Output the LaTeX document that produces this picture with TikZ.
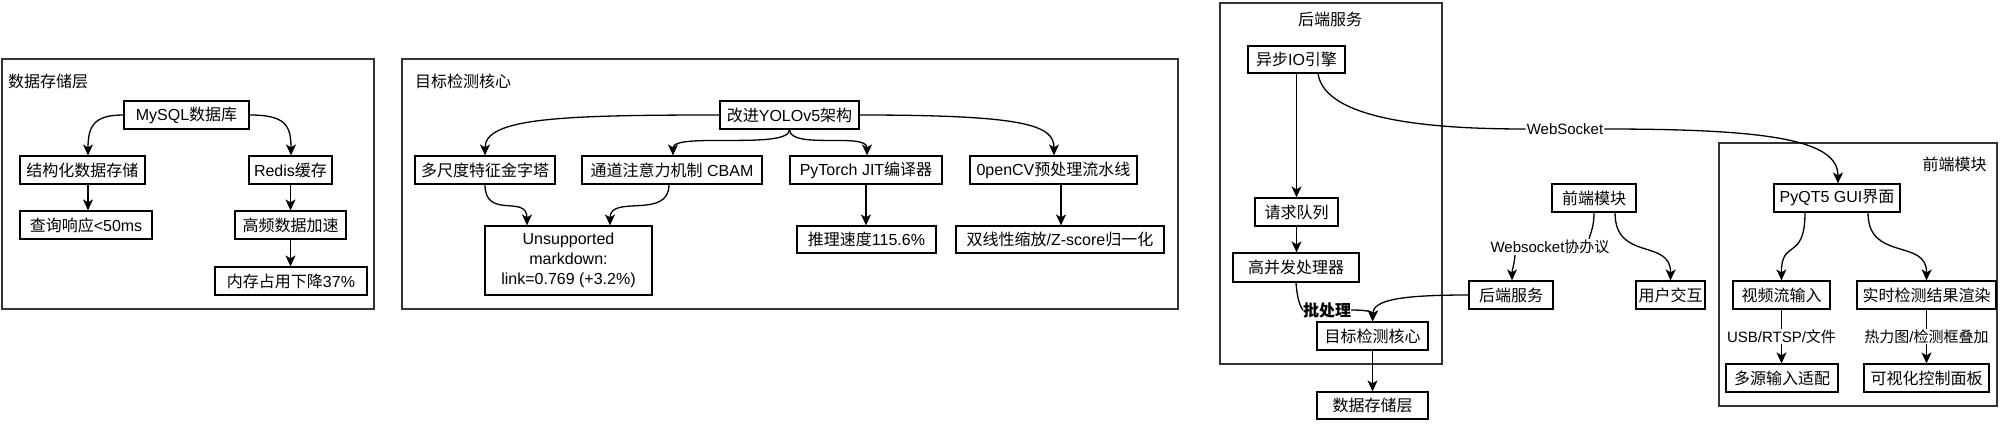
\documentclass[tikz,border=0pt]{standalone}
\usepackage{fontspec}
\setmainfont{Liberation Sans}
\newfontfamily\cjkfont{Noto Sans CJK SC}
\newcommand{\zh}[1]{{\cjkfont #1}}
\usetikzlibrary{arrows.meta}
\tikzset{
  box/.style={draw=black, line width=1.2pt, minimum height=28pt, inner sep=0pt, align=center, font=\fontsize{16}{19}\selectfont, fill=white},
  frame/.style={draw=black!80, line width=1.5pt},
  arr/.style={-{Stealth[length=11pt,width=10pt,inset=3pt]}, line width=1.3pt},
  ln/.style={line width=1.3pt},
  lbl/.style={fill=white, inner sep=1pt, font=\fontsize{15}{18}\selectfont},
  ttl/.style={inner sep=0pt, font=\fontsize{16}{19}\selectfont}
}
\begin{document}
\begin{tikzpicture}[x=1pt,y=-1pt]
\useasboundingbox (0,0) rectangle (2000,425);
\fill[white] (0,0) rectangle (2000,425);

% ---------- frames ----------
\draw[frame] (2,59) rectangle (374,309);
\draw[frame] (402,59) rectangle (1178,309);
\draw[frame] (1220,3) rectangle (1442,364);
\draw[frame] (1719,143) rectangle (1997,406);

\node[ttl, anchor=west] (t1) at (8,81) {\zh{数据存储层}};
\node[ttl, anchor=west] (t2) at (415,81) {\zh{目标检测核心}};
\node[ttl] (t3) at (1330,19) {\zh{后端服务}};
\node[ttl] (t4) at (1954.5,164) {\zh{前端模块}};

% ---------- storage ----------
\node[box, minimum width=125pt] (mysql) at (186.5,115) {MySQL\zh{数据库}};
\node[box, minimum width=125pt] (jg) at (82.5,170) {\zh{结构化数据存储}};
\node[box, minimum width=83pt] (redis) at (290.5,170) {Redis\zh{缓存}};
\node[box, minimum width=132pt] (cx) at (86,225) {\zh{查询响应}<50ms};
\node[box, minimum width=111pt] (gp) at (290.5,225) {\zh{高频数据加速}};
\node[box, minimum width=152pt] (nc) at (291,281) {\zh{内存占用下降}37\%};

\draw[arr] (mysql.west) .. controls (95,115) and (88,125) .. ([xshift=5.5pt]jg.north);
\draw[arr] (mysql.east) .. controls (285,115) and (291,125) .. ([xshift=0.5pt]redis.north);
\draw[arr] ([xshift=5.5pt]jg.south) -- ([xshift=5.5pt]jg.south |- cx.north);
\draw[arr] (redis.south) -- (redis.south |- gp.north);
\draw[arr] (gp.south) -- (gp.south |- nc.north);

% ---------- detection core ----------
\node[box, minimum width=139pt] (yolo) at (789.5,115) {\zh{改进}YOLOv5\zh{架构}};
\node[box, minimum width=140pt] (dcf) at (485,170) {\zh{多尺度特征金字塔}};
\node[box, minimum width=180pt] (cbam) at (672,170) {\zh{通道注意力机制} CBAM};
\node[box, minimum width=152pt] (jit) at (866,170) {PyTorch JIT\zh{编译器}};
\node[box, minimum width=167pt] (ocv) at (1053.5,170) {0penCV\zh{预处理流水线}};
\node[box, minimum width=139pt, minimum height=27pt] (tl) at (866.5,239.5) {\zh{推理速度}115.6\%};
\node[box, minimum width=208pt, minimum height=27pt] (sx) at (1060,239.5) {\zh{双线性缩放}/Z-score\zh{归一化}};
\node[box, minimum width=167pt, minimum height=69pt, font=\fontsize{16}{20}\selectfont] (um) at (568.5,260.5) {Unsupported\\markdown:\\link=0.769 (+3.2\%)};

\draw[arr] (yolo.west) .. controls (560,115) and (485,118) .. (dcf.north);
\draw[arr] (yolo.south) .. controls (790,150) and (673,132) .. ([xshift=1pt]cbam.north);
\draw[arr] (yolo.south) .. controls (790,150) and (867,132) .. ([xshift=1pt]jit.north);
\draw[arr] (yolo.east) .. controls (1025,115) and (1054,125) .. ([xshift=0.5pt]ocv.north);
\draw[arr] (jit.south) -- (jit.south |- tl.north);
\draw[arr] ([xshift=7.5pt]ocv.south) -- ([xshift=7.5pt]ocv.south |- sx.north);
\draw[arr] (dcf.south) .. controls (485,220) and (527,194) .. ([xshift=-41.5pt]um.north);
\draw[arr] ([xshift=-3pt]cbam.south) .. controls (669,220) and (610,194) .. ([xshift=41.5pt]um.north);

% ---------- backend ----------
\node[box, minimum width=97pt, minimum height=27pt] (aio) at (1296.5,59.5) {\zh{异步}IO\zh{引擎}};
\node[box, minimum width=83pt] (qq) at (1296.5,212) {\zh{请求队列}};
\node[box, minimum width=126pt, minimum height=29pt] (gbf) at (1296,267.5) {\zh{高并发处理器}};
\node[box, minimum width=111pt] (tdc) at (1372.5,336) {\zh{目标检测核心}};
\node[box, minimum width=111pt, minimum height=27pt] (dsl) at (1372.5,405.5) {\zh{数据存储层}};
\node[inner sep=0pt, font=\fontsize{16}{19}\selectfont] (pcl) at (1327,310) {\zh{\bfseries 批处理}};

\draw[arr] (aio.south) -- (aio.south |- qq.north);
\draw[arr] (qq.south) -- (qq.south |- gbf.north);
\draw[ln] (gbf.south) .. controls (1297,298) and (1300,306) .. (pcl.west);
\draw[arr] (pcl.east) .. controls (1368,310) and (1373,312) .. (tdc.north);
\draw[arr] (tdc.south) -- (tdc.south |- dsl.north);

% ---------- WebSocket link ----------
\node[lbl] (ws) at (1565,129) {WebSocket};
\draw[ln] ([xshift=21.5pt]aio.south) .. controls (1325,122) and (1440,129) .. (ws.west);

% ---------- middle ----------
\node[box, minimum width=84pt] (fm) at (1594,198) {\zh{前端模块}};
\node[box, minimum width=84pt] (hd) at (1511,295) {\zh{后端服务}};
\node[box, minimum width=69pt] (yh) at (1670.5,295) {\zh{用户交互}};
\node[lbl] (wsp) at (1550,247) {Websocket\zh{协办议}};

\draw[ln] (fm.south) .. controls (1594,226) and (1591,232) .. ([xshift=39pt]wsp.north);
\draw[arr] ([xshift=-35pt]wsp.south) .. controls (1514,266) and (1512,270) .. ([xshift=1pt]hd.north);
\draw[arr] ([xshift=21pt]fm.south) .. controls (1615,262) and (1671,238) .. (yh.north);
\draw[arr] (hd.west) .. controls (1400,295) and (1373,300) .. (tdc.north);

% ---------- frontend ----------
\node[box, minimum width=126pt] (pyqt) at (1837,198) {PyQT5 GUI\zh{界面}};
\node[box, minimum width=97pt] (spl) at (1781.5,295) {\zh{视频流输入}};
\node[box, minimum width=139pt] (ss) at (1926.5,295) {\zh{实时检测结果渲染}};
\node[box, minimum width=112pt] (dy) at (1782,378) {\zh{多源输入适配}};
\node[box, minimum width=125pt] (ks) at (1926.5,378) {\zh{可视化控制面板}};

\draw[arr] (ws.east) .. controls (1770,129) and (1838,140) .. ([xshift=1pt]pyqt.north);
\draw[arr] ([xshift=-32pt]pyqt.south) .. controls (1805,262) and (1781,238) .. (spl.north);
\draw[arr] ([xshift=31pt]pyqt.south) .. controls (1868,262) and (1927,238) .. (ss.north);
\draw[arr] (spl.south) -- node[lbl] (l1) {USB/RTSP/\zh{文件}} (spl.south |- dy.north);
\draw[arr] (ss.south) -- node[lbl] (l2) {\zh{热力图}/\zh{检测框叠加}} (ss.south |- ks.north);
\end{tikzpicture}
\end{document}
